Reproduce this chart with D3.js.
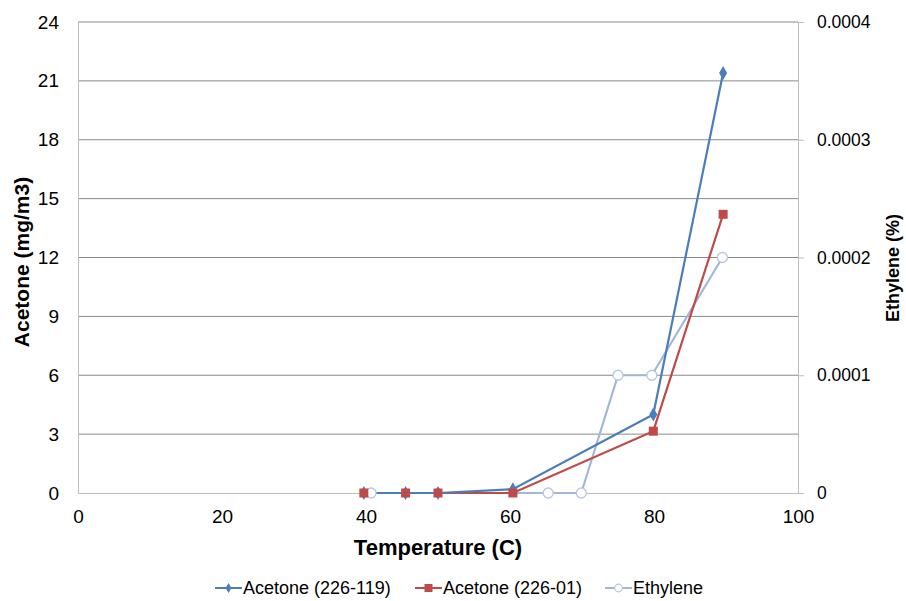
<!DOCTYPE html>
<html>
<head>
<meta charset="utf-8">
<script src="https://cdn.jsdelivr.net/npm/d3@7"></script>
<style>
  body { margin: 0; background: #fff; }
  text { font-family: "Liberation Sans", Arial, sans-serif; fill: #000; }
</style>
</head>
<body>
<div id="chart"></div>
<script>
// temperatures (C)
var acetone119T = [39.7, 45.5, 50, 60.4, 79.9, 89.6];
var acetone119 = [0, 0, 0, 0.19, 4.0, 21.4];
var acetone01T = [39.7, 45.5, 50, 60.4, 79.9, 89.6];
var acetone01 = [0, 0, 0, 0, 3.15, 14.2];
var ethyleneT = [40.7, 65.3, 69.9, 75, 79.7, 89.5];
var ethylene = [0, 0, 0, 0.0001, 0.0001, 0.0002];

var xTicks = [0, 20, 40, 60, 80, 100];
var leftTicks = [0, 3, 6, 9, 12, 15, 18, 21, 24];
var rightTicks = [0, 0.0001, 0.0002, 0.0003, 0.0004];

var w = 906, h = 601;
var plotL = 78, plotR = 798, plotT = 22, plotB = 493;

var svg = d3.select("#chart").append("svg")
  .attr("width", w)
  .attr("height", h);

var x = d3.scaleLinear().domain([0, 100]).range([plotL, plotR]);
var y = d3.scaleLinear().domain([0, 24]).range([plotB, plotT]);
var y2 = d3.scaleLinear().domain([0, 0.0004]).range([plotB, plotT]);

// gridlines
svg.append("g")
  .selectAll("line")
  .data(leftTicks.slice(1))
  .enter()
  .append("line")
  .attr("x1", plotL)
  .attr("x2", plotR)
  .attr("y1", d => y(d))
  .attr("y2", d => y(d))
  .attr("stroke", "#8a8a8a")
  .attr("stroke-width", 1);

// axes
var xAxis = svg.append("g")
  .attr("transform", "translate(0," + plotB + ")")
  .call(d3.axisBottom(x).tickValues(xTicks).tickSize(0).tickPadding(17));
var yAxis = svg.append("g")
  .attr("transform", "translate(" + plotL + ",0)")
  .call(d3.axisLeft(y).tickValues(leftTicks).tickSize(0).tickPadding(19));
var y2Axis = svg.append("g")
  .attr("transform", "translate(" + plotR + ",0)")
  .call(d3.axisRight(y2).tickValues(rightTicks).tickSize(6).tickPadding(13)
    .tickFormat(d => d === 0 ? "0" : d.toFixed(4)));

[xAxis, yAxis, y2Axis].forEach(function (a) {
  a.select(".domain").attr("stroke", "#bdbdbd");
  a.selectAll(".tick line").attr("stroke", "#bdbdbd");
  a.selectAll("text").attr("font-size", 19).attr("font-family", "Liberation Sans, Arial, sans-serif");
});
y2Axis.selectAll("text").attr("font-size", 17.5).attr("font-family", "Open Sans, sans-serif");

// axis titles
svg.append("text")
  .attr("x", 438).attr("y", 555)
  .attr("text-anchor", "middle")
  .attr("font-size", 22).attr("font-weight", "bold")
  .text("Temperature (C)");
svg.append("text")
  .attr("transform", "translate(29,262) rotate(-90)")
  .attr("text-anchor", "middle")
  .attr("font-size", 21).attr("font-weight", "bold")
  .text("Acetone (mg/m3)");
svg.append("text")
  .attr("transform", "translate(899,268) rotate(-90)")
  .attr("text-anchor", "middle")
  .attr("font-size", 18).attr("font-weight", "bold")
  .attr("font-family", "Open Sans, sans-serif")
  .text("Ethylene (%)");

var blue = "#4a7ebb", red = "#be4b48", light = "#a2b6d8";

function series(tx, ty, ys, color, width) {
  var pts = tx.map((t, i) => [x(t), ys(ty[i])]);
  svg.append("path")
    .attr("d", d3.line()(pts))
    .attr("fill", "none")
    .attr("stroke", color)
    .attr("stroke-width", width);
  return pts;
}

var ethPts = series(ethyleneT, ethylene, y2, light, 2.2);
var redPts = series(acetone01T, acetone01, y, red, 2.2);
var bluePts = series(acetone119T, acetone119, y, blue, 2.2);

// markers
svg.append("g").selectAll("circle").data(ethPts).enter().append("circle")
  .attr("cx", d => d[0]).attr("cy", d => d[1]).attr("r", 5)
  .attr("fill", "#fff").attr("stroke", "#b7c6e0").attr("stroke-width", 1.3);
svg.append("g").selectAll("path").data(bluePts).enter().append("path")
  .attr("d", d3.symbol(d3.symbolDiamond, 55))
  .attr("transform", d => "translate(" + d[0] + "," + d[1] + ")")
  .attr("fill", blue);
svg.append("g").selectAll("rect").data(redPts).enter().append("rect")
  .attr("x", d => d[0] - 4.5).attr("y", d => d[1] - 4.5)
  .attr("width", 9).attr("height", 9)
  .attr("fill", red);

// legend
var legend = [
  { name: "Acetone (226-119)", color: blue, mark: "diamond", x: 215 },
  { name: "Acetone (226-01)", color: red, mark: "square", x: 415 },
  { name: "Ethylene", color: light, mark: "circle", x: 605 }
];
var ly = 588;
var lg = svg.append("g").selectAll("g").data(legend).enter().append("g")
  .attr("transform", d => "translate(" + d.x + "," + ly + ")");
lg.append("line")
  .attr("x1", 0).attr("x2", 27)
  .attr("stroke", d => d.color).attr("stroke-width", 2);
lg.each(function (d) {
  var g = d3.select(this);
  if (d.mark === "diamond") {
    g.append("path").attr("d", d3.symbol(d3.symbolDiamond, 30))
      .attr("transform", "translate(13.5,0)").attr("fill", d.color);
  } else if (d.mark === "square") {
    g.append("rect").attr("x", 9.5).attr("y", -4).attr("width", 8).attr("height", 8).attr("fill", d.color);
  } else {
    g.append("circle").attr("cx", 13.5).attr("r", 3.8)
      .attr("fill", "#fff").attr("stroke", "#b7c6e0").attr("stroke-width", 1.2);
  }
});
lg.append("text")
  .attr("x", 28).attr("dy", "0.35em")
  .attr("font-size", 18)
  .text(d => d.name);
</script>
</body>
</html>
